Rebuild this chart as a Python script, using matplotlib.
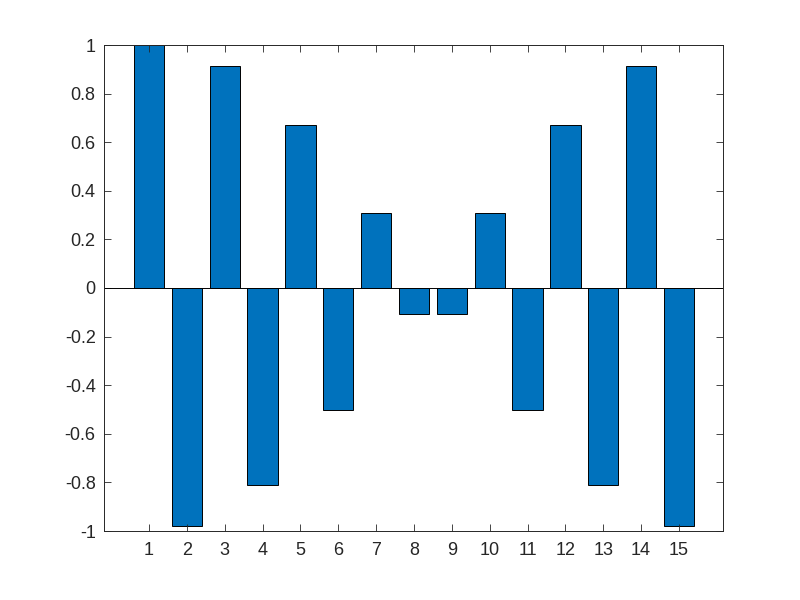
import matplotlib.pyplot as plt
import numpy as np

positions = list(range(1, 16))
values = [1.0, -0.978, 0.914, -0.809, 0.669, -0.5, 0.309, -0.105,
          -0.105, 0.309, -0.5, 0.669, -0.809, 0.914, -0.978]
y_ticks = [-1, -0.8, -0.6, -0.4, -0.2, 0, 0.2, 0.4, 0.6, 0.8, 1]
y_labels = ['-1', '-0.8', '-0.6', '-0.4', '-0.2', '0', '0.2', '0.4', '0.6', '0.8', '1']

plt.rcParams['font.family'] = ['Liberation Sans', 'DejaVu Sans']

fig = plt.figure(figsize=(8, 6), dpi=100)
ax = fig.add_axes([0.13, 0.115, 0.774, 0.81])

ax.bar(positions, values, width=0.8, color='#0072BD', edgecolor='black', linewidth=0.7)
ax.axhline(0, color='black', linewidth=0.7)

ax.set_xlim(-0.19, 16.17)
ax.set_ylim(-1, 1)
ax.set_xticks(positions)
ax.set_xticklabels([str(p) for p in positions])
ax.set_yticks(y_ticks)
ax.set_yticklabels(y_labels)

ax.tick_params(direction='in', top=True, right=True, length=5, width=0.6,
               color='#262626', labelcolor='#262626', labelsize=13)
ax.tick_params(axis='y', pad=6)
ax.tick_params(axis='x', pad=8)
for side in ax.spines.values():
    side.set_color('#262626')
    side.set_linewidth(0.7)

fig.savefig('out.png', dpi=100)
